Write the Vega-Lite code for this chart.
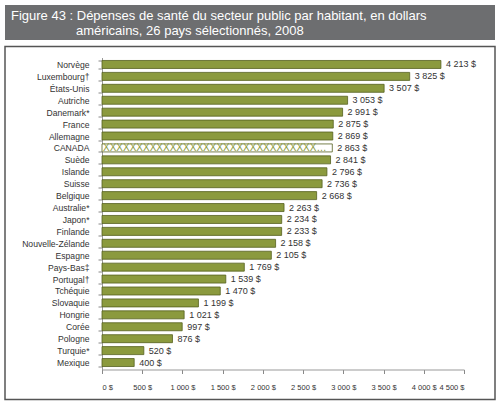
{
  "$schema": "https://vega.github.io/schema/vega-lite/v6.json",
  "padding": {"left": 4, "top": 5, "right": 0, "bottom": 0},
  "background": "white",
  "spacing": 1.5,
  "config": {
    "locale": {"number": {"decimal": ",", "thousands": " ", "grouping": [3], "currency": ["", " $"]}},
    "font": "Liberation Sans, sans-serif"
  },
  "vconcat": [
    {
      "width": 490,
      "height": 35,
      "view": {"fill": "#6d6e70", "stroke": null},
      "title": {
        "text": [
          "Figure 43 : Dépenses de santé du secteur public par habitant, en dollars",
          "\u200b\u00a0\u00a0\u00a0\u00a0\u00a0\u00a0\u00a0\u00a0\u00a0\u00a0\u00a0\u00a0\u00a0\u00a0\u00a0\u00a0\u00a0\u00a0américains, 26 pays sélectionnés, 2008"
        ],
        "anchor": "start",
        "frame": "group",
        "baseline": "alphabetic",
        "offset": -43,
        "dx": 6,
        "font": "Liberation Sans",
        "fontSize": 13,
        "fontWeight": "normal",
        "lineHeight": 15.5,
        "color": "white"
      },
      "data": {"values": [{}]},
      "mark": {"type": "point", "opacity": 0},
      "encoding": {}
    },
    {
      "width": 490,
      "height": 353,
      "view": {"fill": "white", "stroke": "#555555", "strokeWidth": 1.5},
      "data": {
        "values": [
          {"pays": "Norvège", "depense": 4213},
          {"pays": "Luxembourg†", "depense": 3825},
          {"pays": "États-Unis", "depense": 3507},
          {"pays": "Autriche", "depense": 3053},
          {"pays": "Danemark*", "depense": 2991},
          {"pays": "France", "depense": 2875},
          {"pays": "Allemagne", "depense": 2869},
          {"pays": "CANADA", "depense": 2863},
          {"pays": "Suède", "depense": 2841},
          {"pays": "Islande", "depense": 2796},
          {"pays": "Suisse", "depense": 2736},
          {"pays": "Belgique", "depense": 2668},
          {"pays": "Australie*", "depense": 2263},
          {"pays": "Japon*", "depense": 2234},
          {"pays": "Finlande", "depense": 2233},
          {"pays": "Nouvelle-Zélande", "depense": 2158},
          {"pays": "Espagne", "depense": 2105},
          {"pays": "Pays-Bas‡", "depense": 1769},
          {"pays": "Portugal†", "depense": 1539},
          {"pays": "Tchéquie", "depense": 1470},
          {"pays": "Slovaquie", "depense": 1199},
          {"pays": "Hongrie", "depense": 1021},
          {"pays": "Corée", "depense": 997},
          {"pays": "Pologne", "depense": 876},
          {"pays": "Turquie*", "depense": 520},
          {"pays": "Mexique", "depense": 400}
        ]
      },
      "encoding": {
        "y": {
          "field": "pays",
          "type": "nominal",
          "sort": ["Norvège", "Luxembourg†", "États-Unis", "Autriche", "Danemark*", "France", "Allemagne", "CANADA", "Suède", "Islande", "Suisse", "Belgique", "Australie*", "Japon*", "Finlande", "Nouvelle-Zélande", "Espagne", "Pays-Bas‡", "Portugal†", "Tchéquie", "Slovaquie", "Hongrie", "Corée", "Pologne", "Turquie*", "Mexique"],
          "scale": {"range": [11, 323], "paddingInner": 0.33, "paddingOuter": 0.25},
          "axis": {
            "orient": "left",
            "offset": -97,
            "title": null,
            "tickBand": "extent",
            "tickSize": 4,
            "tickColor": "#888888",
            "domainColor": "#999999",
            "labelPadding": 9,
            "labelFontSize": 8.6,
            "labelColor": "#333333",
            "grid": false
          }
        }
      },
      "layer": [
        {
          "mark": {"type": "bar", "stroke": "#56611f", "strokeWidth": 0.8},
          "encoding": {
            "x": {
              "field": "depense",
              "type": "quantitative",
              "scale": {"domain": [0, 4500], "range": [97, 459], "nice": false},
              "axis": {
                "orient": "bottom",
                "offset": -30,
                "values": [0, 500, 1000, 1500, 2000, 2500, 3000, 3500, 4000, 4500],
                "format": "$,.0f",
                "title": null,
                "grid": false,
                "tickSize": 4,
                "tickColor": "#888888",
                "domainColor": "#999999",
                "labelFontSize": 7.5,
                "labelColor": "#333333",
                "labelPadding": 10
              }
            },
            "fill": {
              "condition": {"test": "datum.pays === 'CANADA'", "value": "white"},
              "value": "#8b9a3e"
            }
          }
        },
        {
          "transform": [{"filter": "datum.pays === 'CANADA'"}],
          "mark": {
            "type": "text",
            "text": "XXXXXXXXXXXXXXXXXXXXXXXXXXXXXXXXXXXXXXXXXXXX",
            "align": "left",
            "baseline": "middle",
            "dx": 1,
            "dy": 0.5,
            "font": "Liberation Sans",
            "fontSize": 10,
            "color": "#8b9a3e",
            "limit": 228,
            "ellipsis": ""
          },
          "encoding": {"x": {"datum": 0, "type": "quantitative"}}
        },
        {
          "mark": {"type": "text", "align": "left", "baseline": "middle", "dx": 5, "fontSize": 9, "color": "#333333"},
          "encoding": {
            "x": {"field": "depense", "type": "quantitative"},
            "text": {"field": "depense", "type": "quantitative", "format": "$,.0f"}
          }
        }
      ]
    }
  ]
}
